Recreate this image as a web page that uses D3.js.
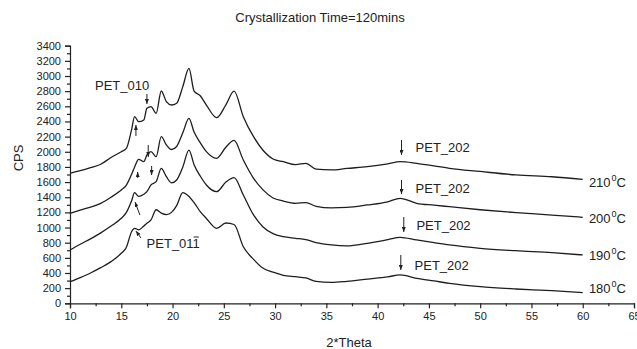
<!DOCTYPE html>
<html>
<head>
<meta charset="utf-8">
<script src="https://cdn.jsdelivr.net/npm/d3@7"></script>
<style>
  body { margin: 0; background: #fff; }
  svg { font-family: "Liberation Sans", Arial, sans-serif; }
</style>
</head>
<body>
<div id="chart"></div>
<script>
const width = 637;
const height = 349;

// 2*Theta sample positions
const theta = [10, 11, 12, 13, 14, 15, 15.5, 16, 16.3, 16.7, 17.2, 17.5, 17.9, 18.4, 18.9, 19.4, 19.9, 20.4,
  21.0, 21.6, 22.1, 22.7, 23.3, 24.3, 25.2, 26.0, 26.9, 27.9, 28.8, 29.8, 30.8, 32, 33, 34, 35.5, 37, 39, 41,
  42.2, 43.8, 45.5, 47, 50, 53.5, 57, 60];

const cps210 = [1716, 1750, 1790, 1835, 1925, 2001, 2046, 2288, 2463, 2397, 2420, 2573, 2595, 2508, 2802, 2661, 2617, 2640,
  2860, 3100, 2800, 2740, 2617, 2450, 2620, 2800, 2463, 2199, 2023, 1905, 1869, 1830, 1848, 1770, 1760, 1780, 1803, 1840,
  1869, 1848, 1815, 1782, 1740, 1694, 1670, 1637];

const cps200 = [1188, 1230, 1270, 1320, 1400, 1496, 1560, 1700, 1800, 1900, 1870, 1958, 2001, 1935, 2200, 2090, 2030, 2070,
  2250, 2440, 2260, 2120, 2001, 1914, 2060, 2150, 1891, 1650, 1500, 1390, 1350, 1320, 1330, 1280, 1260, 1265, 1298, 1340,
  1386, 1320, 1295, 1275, 1235, 1196, 1165, 1135];

const cps190 = [704, 780, 850, 930, 1020, 1122, 1200, 1350, 1460, 1410, 1440, 1473, 1562, 1605, 1782, 1671, 1590, 1628,
  1800, 2023, 1830, 1680, 1562, 1473, 1600, 1660, 1430, 1166, 1011, 920, 880, 858, 840, 800, 770, 758, 792, 840,
  871, 836, 800, 770, 726, 694, 668, 638];

const cps180 = [285, 340, 400, 470, 550, 660, 740, 945, 990, 970, 1020, 1056, 1100, 1235, 1190, 1170, 1200, 1290,
  1460, 1410, 1330, 1209, 1120, 990, 1060, 1040, 747, 580, 465, 410, 370, 351, 335, 290, 275, 290, 320, 350,
  374, 330, 295, 264, 220, 189, 166, 140];

const seriesNames = ["210", "200", "190", "180"];
const seriesValues = [cps210, cps200, cps190, cps180];
// temperature label anchor (theta, cps baseline)
const tempLabelTheta = [60.6, 60.6, 60.6, 60.6];
const tempLabelCps = [1535, 1062, 572, 136];

// arrows: [theta1, cps1, theta2, cps2] head at the second point
const arrows = [
  [17.5, 2763, 17.5, 2631],
  [16.43, 2208, 16.43, 2353],
  [17.63, 2090, 17.63, 1931],
  [16.6, 1654, 16.6, 1733],
  [17.96, 1812, 17.96, 1693],
  [16.82, 1165, 16.34, 1337],
  [16.92, 862, 16.43, 954],
  [42.33, 2156, 42.33, 1958],
  [42.33, 1628, 42.33, 1443],
  [42.55, 1139, 42.55, 941],
  [42.26, 638, 42.26, 440]
];

// peak labels: [text, theta, cps baseline]
const peakLabels = [
  ["PET_010", 12.44, 2815],
  ["PET_202", 43.7, 1997],
  ["PET_202", 43.7, 1456],
  ["PET_202", 43.78, 968],
  ["PET_202", 43.6, 440]
];
const barLabel = ["PET_01", "1", 17.47, 730];

const xTicks = [10, 15, 20, 25, 30, 35, 40, 45, 50, 55, 60, 65];
const yTicks = d3.range(0, 3401, 200);

const x = d3.scaleLinear().domain([10, 65]).range([70, 634]);
const y = d3.scaleLinear().domain([0, 3400]).range([303.3, 45.7]);

const svg = d3.select("#chart").append("svg")
  .attr("width", width)
  .attr("height", height);

svg.append("defs").append("marker")
  .attr("id", "head")
  .attr("viewBox", "0 0 10 10")
  .attr("refX", 10).attr("refY", 5)
  .attr("markerWidth", 5).attr("markerHeight", 4)
  .attr("markerUnits", "userSpaceOnUse")
  .attr("orient", "auto")
  .attr("preserveAspectRatio", "none")
  .append("path").attr("d", "M0,0L10,5L0,10z").attr("fill", "#222");

// title
svg.append("text")
  .attr("x", 320).attr("y", 22)
  .attr("text-anchor", "middle")
  .attr("font-size", 13).attr("fill", "#222")
  .text("Crystallization Time=120mins");

// axes
svg.append("g").attr("transform", `translate(0,${y(0)})`)
  .call(d3.axisBottom(x).tickValues(xTicks).tickSize(5).tickPadding(4).tickFormat(d3.format("d")));
svg.append("g").attr("transform", `translate(0,${y(0)})`)
  .call(d3.axisBottom(x).tickValues(d3.range(12.5, 65, 5)).tickSize(3).tickFormat(""))
  .select(".domain").remove();

svg.append("g").attr("transform", `translate(${x(10)},0)`)
  .call(d3.axisLeft(y).tickValues(yTicks).tickSize(5).tickPadding(4).tickFormat(d3.format("d")));
svg.append("g").attr("transform", `translate(${x(10)},0)`)
  .call(d3.axisLeft(y).tickValues(d3.range(100, 3400, 200)).tickSize(3).tickFormat(""))
  .select(".domain").remove();

svg.selectAll(".tick text")
  .attr("font-family", "Liberation Sans, Arial, sans-serif")
  .attr("font-size", 11).attr("fill", "#222");
svg.selectAll(".domain, .tick line").attr("stroke", "#222").attr("stroke-width", 1.2);

svg.append("text")
  .attr("transform", `translate(23,158) rotate(-90)`)
  .attr("text-anchor", "middle")
  .attr("font-size", 13).attr("fill", "#222")
  .text("CPS");

svg.append("text")
  .attr("x", 349).attr("y", 347)
  .attr("text-anchor", "middle")
  .attr("font-size", 13).attr("fill", "#222")
  .text("2*Theta");

// curves
const line = d3.line()
  .x((d, i) => x(theta[i]))
  .y(d => y(d))
  .curve(d3.curveMonotoneX);

svg.append("g")
  .selectAll("path")
  .data(seriesValues)
  .join("path")
  .attr("d", line)
  .attr("fill", "none")
  .attr("stroke", "#1e1e1e")
  .attr("stroke-width", 1.3)
  .attr("stroke-linejoin", "round");

// arrows
svg.append("g")
  .selectAll("line")
  .data(arrows)
  .join("line")
  .attr("x1", d => x(d[0])).attr("y1", d => y(d[1]))
  .attr("x2", d => x(d[2])).attr("y2", d => y(d[3]))
  .attr("stroke", "#222").attr("stroke-width", 1)
  .attr("marker-end", "url(#head)");

// peak labels
svg.append("g")
  .selectAll("text")
  .data(peakLabels)
  .join("text")
  .attr("x", d => x(d[1])).attr("y", d => y(d[2]))
  .attr("font-size", 13).attr("fill", "#222")
  .text(d => d[0]);

const bl = svg.append("text")
  .attr("x", x(barLabel[2])).attr("y", y(barLabel[3]))
  .attr("font-size", 13).attr("fill", "#222");
bl.append("tspan").text(barLabel[0]);
bl.append("tspan").text(barLabel[1]);
{
  const n = barLabel[0].length;
  const start = bl.node().getSubStringLength(0, n);
  const w = bl.node().getSubStringLength(n, 1);
  const bx = x(barLabel[2]) + start;
  const by = y(barLabel[3]) - 11;
  svg.append("line")
    .attr("x1", bx + 1).attr("x2", bx + w - 1)
    .attr("y1", by).attr("y2", by)
    .attr("stroke", "#222").attr("stroke-width", 1);
}

// temperature labels
const tl = svg.append("g")
  .selectAll("text")
  .data(seriesNames)
  .join("text")
  .attr("x", (d, i) => x(tempLabelTheta[i]))
  .attr("y", (d, i) => y(tempLabelCps[i]))
  .attr("font-size", 13).attr("fill", "#222");
tl.append("tspan").text(d => d);
tl.append("tspan").attr("dy", -6).attr("dx", 1).attr("font-size", 9).text("0");
tl.append("tspan").attr("dy", 6).text("C");
</script>
</body>
</html>
